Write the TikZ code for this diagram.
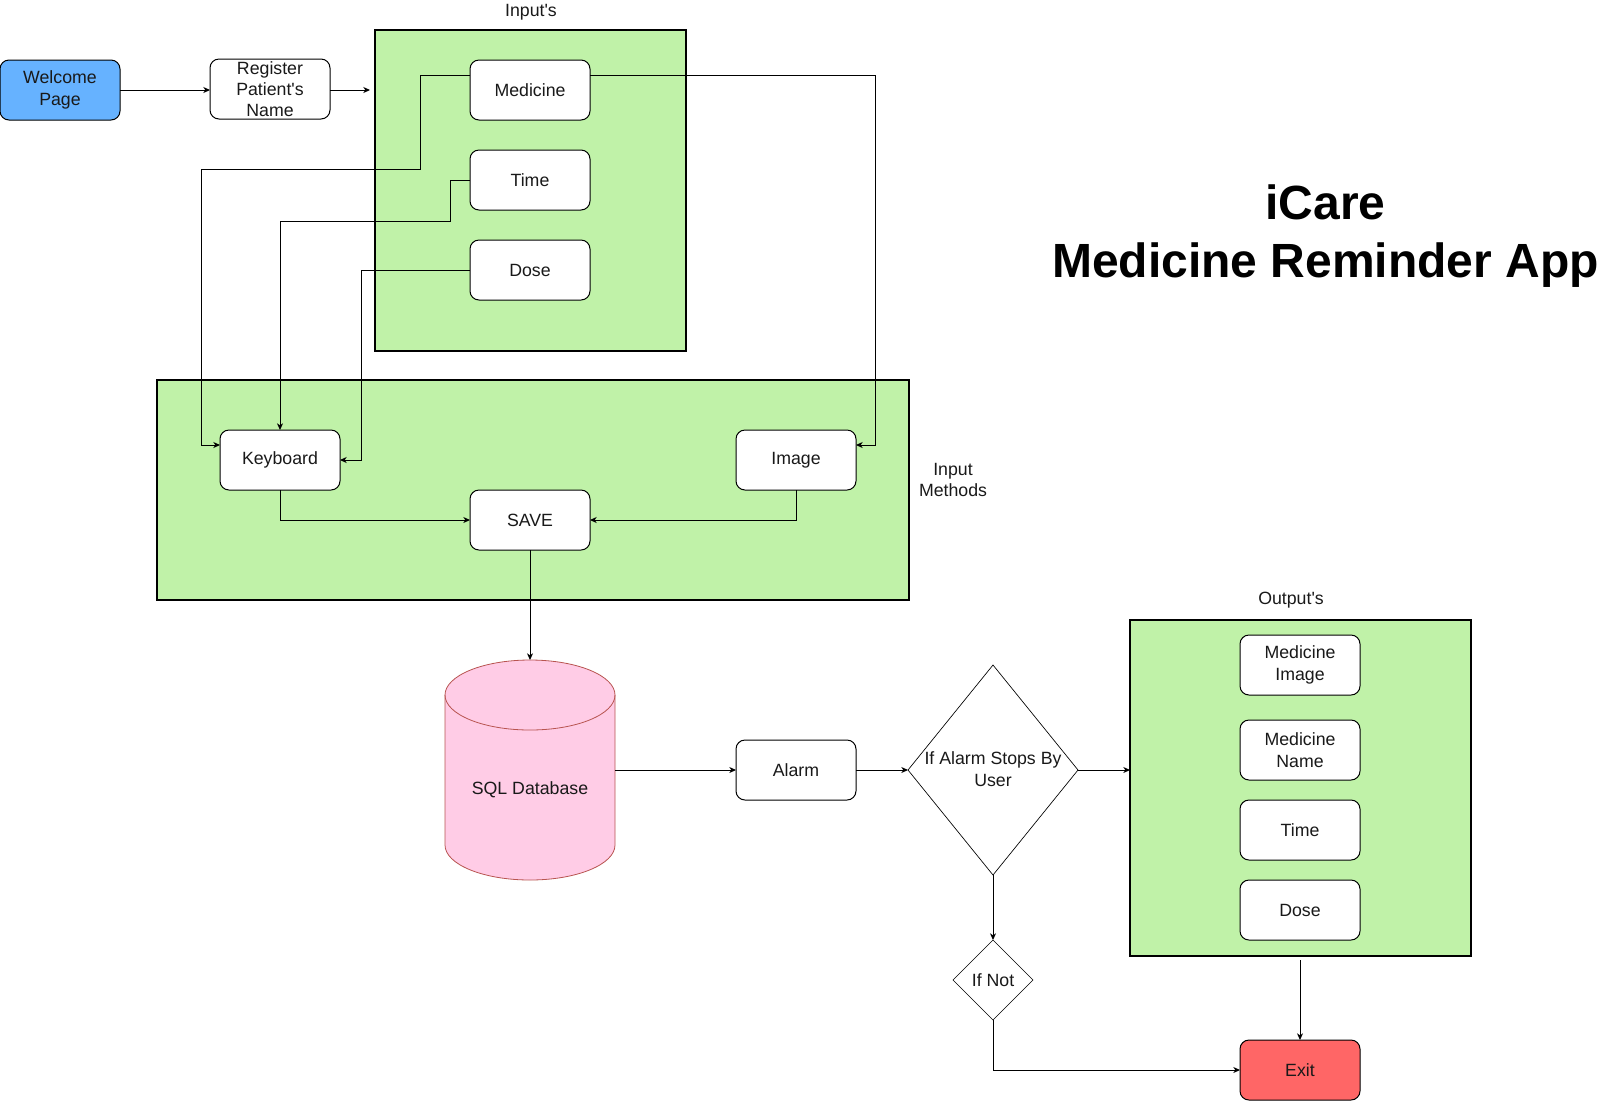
\documentclass[tikz,border=0pt]{standalone}
\usepackage{fontspec}
\setmainfont[Ligatures=TeXOff]{Liberation Sans}
\usetikzlibrary{arrows.meta,calc,shapes.geometric}
\definecolor{gbg}{RGB}{192,242,168}
\definecolor{wblue}{RGB}{102,178,255}
\definecolor{dbpink}{RGB}{255,204,230}
\definecolor{dbline}{RGB}{184,84,80}
\definecolor{exitred}{RGB}{255,102,102}
\definecolor{txt}{RGB}{25,25,25}
\begin{document}
\begin{tikzpicture}[x=0.75pt,y=-0.75pt,
  font=\fontsize{13.3}{16}\selectfont,
  box/.style={draw, line width=0.75pt, rounded corners=6.75pt, fill=white, text=txt,
    minimum width=90pt, minimum height=45pt, inner sep=0pt, outer sep=0pt, align=center},
  container/.style={draw, line width=1.5pt, fill=gbg, inner sep=0pt, outer sep=0pt},
  arr/.style={draw, line width=0.75pt, -{Stealth[length=5pt,width=4.5pt,inset=1.5pt]}},
  dia/.style={draw, diamond, line width=0.5pt, inner sep=0pt, outer sep=0pt, fill=white, text=txt},
  lbl/.style={align=center, inner sep=0pt, text=txt}]
\useasboundingbox (0,0) rectangle (1600,1101);

% containers
\node[container, minimum width=233.25pt, minimum height=240.75pt] (inbox) at (530.5,190.5) {};
\node[container, minimum width=564pt, minimum height=165pt] (methbox) at (533,490) {};
\node[container, minimum width=255.75pt, minimum height=252pt] (outbox) at (1300.5,788) {};

% labels
\node[lbl] (lin) at (531,12) {Input's};
\node[lbl] (lmeth) at (953,480) {Input\\Methods};
\node[lbl] (lout) at (1291,600) {Output's};
\node[lbl, text=black, font=\fontsize{36}{43.2}\selectfont\bfseries] (title) at (1325.5,236) {iCare\\Medicine Reminder App};

% boxes
\node[box, fill=wblue] (wel) at (60,90) {Welcome\\Page};
\node[box] (reg) at (270,89) {Register\\Patient's\\Name};
\node[box] (med) at (530,90) {Medicine};
\node[box] (time) at (530,180) {Time};
\node[box] (dose) at (530,270) {Dose};
\node[box] (kb) at (280,460) {Keyboard};
\node[box] (img) at (796,460) {Image};
\node[box] (save) at (530,520) {SAVE};
\node[box] (alarm) at (796,770) {Alarm};
\node[box] (omi) at (1300,665) {Medicine\\Image};
\node[box] (omn) at (1300,750) {Medicine\\Name};
\node[box] (otime) at (1300,830) {Time};
\node[box] (odose) at (1300,910) {Dose};
\node[box, fill=exitred] (exit) at (1300,1070) {Exit};

% database cylinder
\node[minimum width=127.5pt, minimum height=165pt, inner sep=0pt, outer sep=0pt] (db) at (530,770) {};
\fill[dbpink, draw=dbline, line width=0.6pt] (445,695) -- (445,845)
  arc[start angle=180, end angle=360, x radius=63.75pt, y radius=26.25pt]
  -- (615,695)
  arc[start angle=0, end angle=180, x radius=63.75pt, y radius=26.25pt] -- cycle;
\draw[dbline, line width=0.6pt] (445,695)
  arc[start angle=180, end angle=360, x radius=63.75pt, y radius=26.25pt];
\node[lbl] (dbtext) at (530,790) {SQL Database};

% decisions
\node[dia, minimum width=127.5pt, minimum height=157.5pt] (dec) at (993,770) {};
\node[lbl] (dectext) at (993,769) {If Alarm Stops By\\User};
\node[dia, minimum width=60pt, minimum height=60pt] (ifnot) at (993,980) {If Not};

% connectors
\draw[arr] (wel.east) -- (reg.west |- wel.east);
\draw[arr] (reg.east |- wel.east) -- ($(inbox.west |- wel.east)+(-5,0)$);
\coordinate (medL) at ($(med.north west)!0.25!(med.south west)$);
\coordinate (medR) at ($(med.north east)!0.25!(med.south east)$);
\coordinate (kbL) at ($(kb.north west)!0.25!(kb.south west)$);
\coordinate (imgR) at ($(img.north east)!0.25!(img.south east)$);
\draw[arr] (medL) -| (420,169) -- (201,169) |- (kbL);
\draw[arr] (time.west) -| (450,221) -| (kb.north);
\draw[arr] (dose.west) -| ($(kb.east)+(21,0)$) -- (kb.east);
\draw[arr] (medR) -| ($(imgR)+(19,0)$) -- (imgR);
\draw[arr] (kb.south) |- (save.west);
\draw[arr] (img.south) |- (save.east);
\draw[arr] (save.south) -- (db.north);
\draw[arr] (db.east) -- (alarm.west);
\draw[arr] (alarm.east) -- (dec.west);
\draw[arr] (dec.east) -- (dec.east -| outbox.west);
\draw[arr] (dec.south) -- (ifnot.north);
\draw[arr] (ifnot.south) |- (exit.west);
\draw[arr] ($(outbox.south)+(-0.5,4)$) -- (exit.north);
\end{tikzpicture}
\end{document}
